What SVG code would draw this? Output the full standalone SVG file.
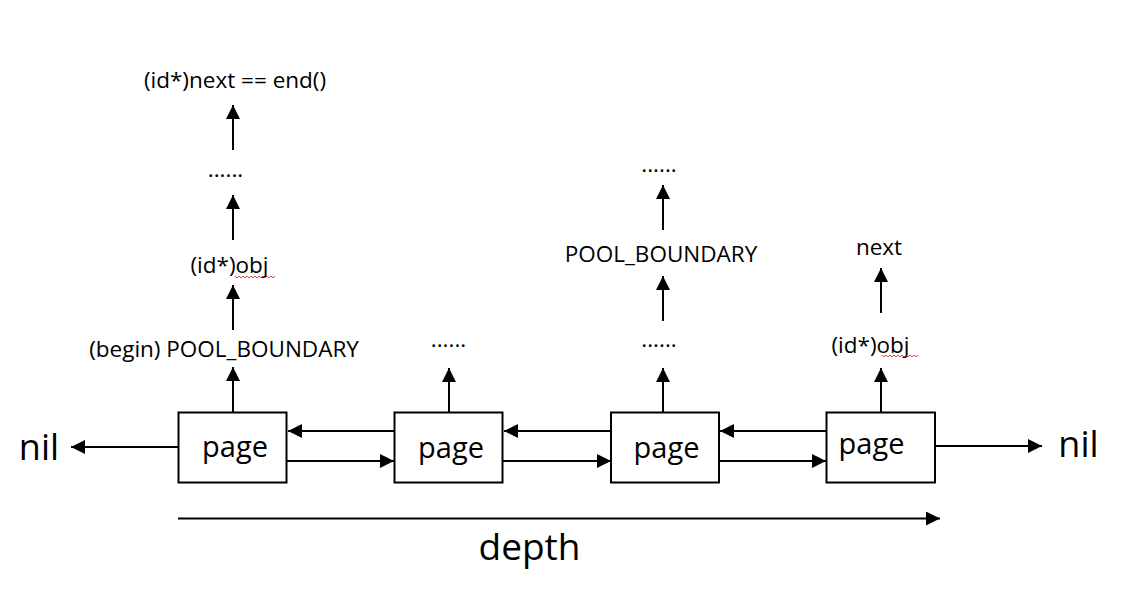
<svg xmlns="http://www.w3.org/2000/svg" width="1122" height="606" viewBox="0 0 1122 606">
  <style>
    .box { fill: #ffffff; stroke: #000000; stroke-width: 2; }
    .edge { stroke: #000000; stroke-width: 2; fill: none; marker-end: url(#arrow); }
    .lbl { font-family: "Open Sans", "Noto Sans", sans-serif; font-size: 22.5px; fill: #000000; text-anchor: middle; }
    .page { font-family: "Open Sans", "Noto Sans", sans-serif; font-size: 29px; fill: #000000; text-anchor: middle; }
    .big { font-family: "Open Sans", "Noto Sans", sans-serif; font-size: 36px; fill: #000000; text-anchor: middle; }
    .squig { stroke: #e0473a; stroke-width: 1; fill: none; }
  </style>
  <defs>
    <marker id="arrow" markerUnits="userSpaceOnUse" markerWidth="14" markerHeight="14" viewBox="0 0 14 14" refX="14" refY="7" orient="auto">
      <path d="M0,0 L14,7 L0,14 Z" fill="#000000"/>
    </marker>
  </defs>
  <rect width="1122" height="606" fill="#ffffff"/>

  <g id="connectors">
    <line class="edge" x1="233" y1="412" x2="233" y2="367"/>
    <line class="edge" x1="233" y1="330" x2="233" y2="285"/>
    <line class="edge" x1="233" y1="240" x2="233" y2="195"/>
    <line class="edge" x1="233" y1="150" x2="233" y2="105"/>
    <line class="edge" x1="449" y1="412" x2="449" y2="368"/>
    <line class="edge" x1="663" y1="412" x2="663" y2="368"/>
    <line class="edge" x1="663" y1="321" x2="663" y2="276"/>
    <line class="edge" x1="663" y1="230" x2="663" y2="185"/>
    <line class="edge" x1="881" y1="412" x2="881" y2="368"/>
    <line class="edge" x1="881" y1="313" x2="881" y2="268"/>
    <line class="edge" x1="394" y1="431" x2="288" y2="431"/>
    <line class="edge" x1="611" y1="431" x2="504" y2="431"/>
    <line class="edge" x1="826" y1="431" x2="720" y2="431"/>
    <line class="edge" x1="287" y1="461" x2="394" y2="461"/>
    <line class="edge" x1="503" y1="461" x2="611" y2="461"/>
    <line class="edge" x1="719" y1="461" x2="826" y2="461"/>
    <line class="edge" x1="178" y1="447" x2="71" y2="447"/>
    <line class="edge" x1="935" y1="446" x2="1042" y2="446"/>
    <line class="edge" x1="178" y1="518.5" x2="940" y2="518.5"/>
  </g>

  <g id="page1">
    <rect class="box" x="178.5" y="412.5" width="108" height="70"/>
    <text class="page" x="235" y="457">page</text>
  </g>
  <g id="page2">
    <rect class="box" x="394.5" y="412.5" width="108" height="70"/>
    <text class="page" x="451" y="458">page</text>
  </g>
  <g id="page3">
    <rect class="box" x="611" y="412.5" width="108" height="70"/>
    <text class="page" x="666.5" y="458">page</text>
  </g>
  <g id="page4">
    <rect class="box" x="826.5" y="412.5" width="108.5" height="70"/>
    <text class="page" x="871.5" y="454">page</text>
  </g>

  <g id="nil-left">
    <text class="big" x="39" y="460">nil</text>
  </g>
  <g id="nil-right">
    <text class="big" x="1078.5" y="457">nil</text>
  </g>
  <g id="depth">
    <text class="big" x="529.5" y="560" style="font-size:37px">depth</text>
  </g>

  <g id="col1-begin">
    <text class="lbl" x="224" y="357">(begin) POOL_BOUNDARY</text>
  </g>
  <g id="col1-obj">
    <text class="lbl" x="229.5" y="273">(id*)obj</text>
    <polyline class="squig" points="235,276 237,278 239,276 241,278 243,276 245,278 247,276 249,278 251,276 253,278 255,276 257,278 259,276 261,278 263,276 265,278 267,276 269,278 271,276 273,278 275,276"/>
  </g>
  <g id="col1-dots">
    <text class="lbl" x="225.5" y="177">......</text>
  </g>
  <g id="col1-end">
    <text class="lbl" x="235" y="88">(id*)next == end()</text>
  </g>

  <g id="col2-dots">
    <text class="lbl" x="448.5" y="347">......</text>
  </g>

  <g id="col3-dots-low">
    <text class="lbl" x="659" y="347">......</text>
  </g>
  <g id="col3-boundary">
    <text class="lbl" x="661" y="262">POOL_BOUNDARY</text>
  </g>
  <g id="col3-dots-high">
    <text class="lbl" x="659" y="172">......</text>
  </g>

  <g id="col4-obj">
    <text class="lbl" x="870.5" y="353">(id*)obj</text>
    <polyline class="squig" points="882,355 884,357 886,355 888,357 890,355 892,357 894,355 896,357 898,355 900,357 902,355 904,357 906,355 908,357 910,355 912,357 914,355 916,357 918,355"/>
  </g>
  <g id="col4-next">
    <text class="lbl" x="879" y="255">next</text>
  </g>
</svg>
